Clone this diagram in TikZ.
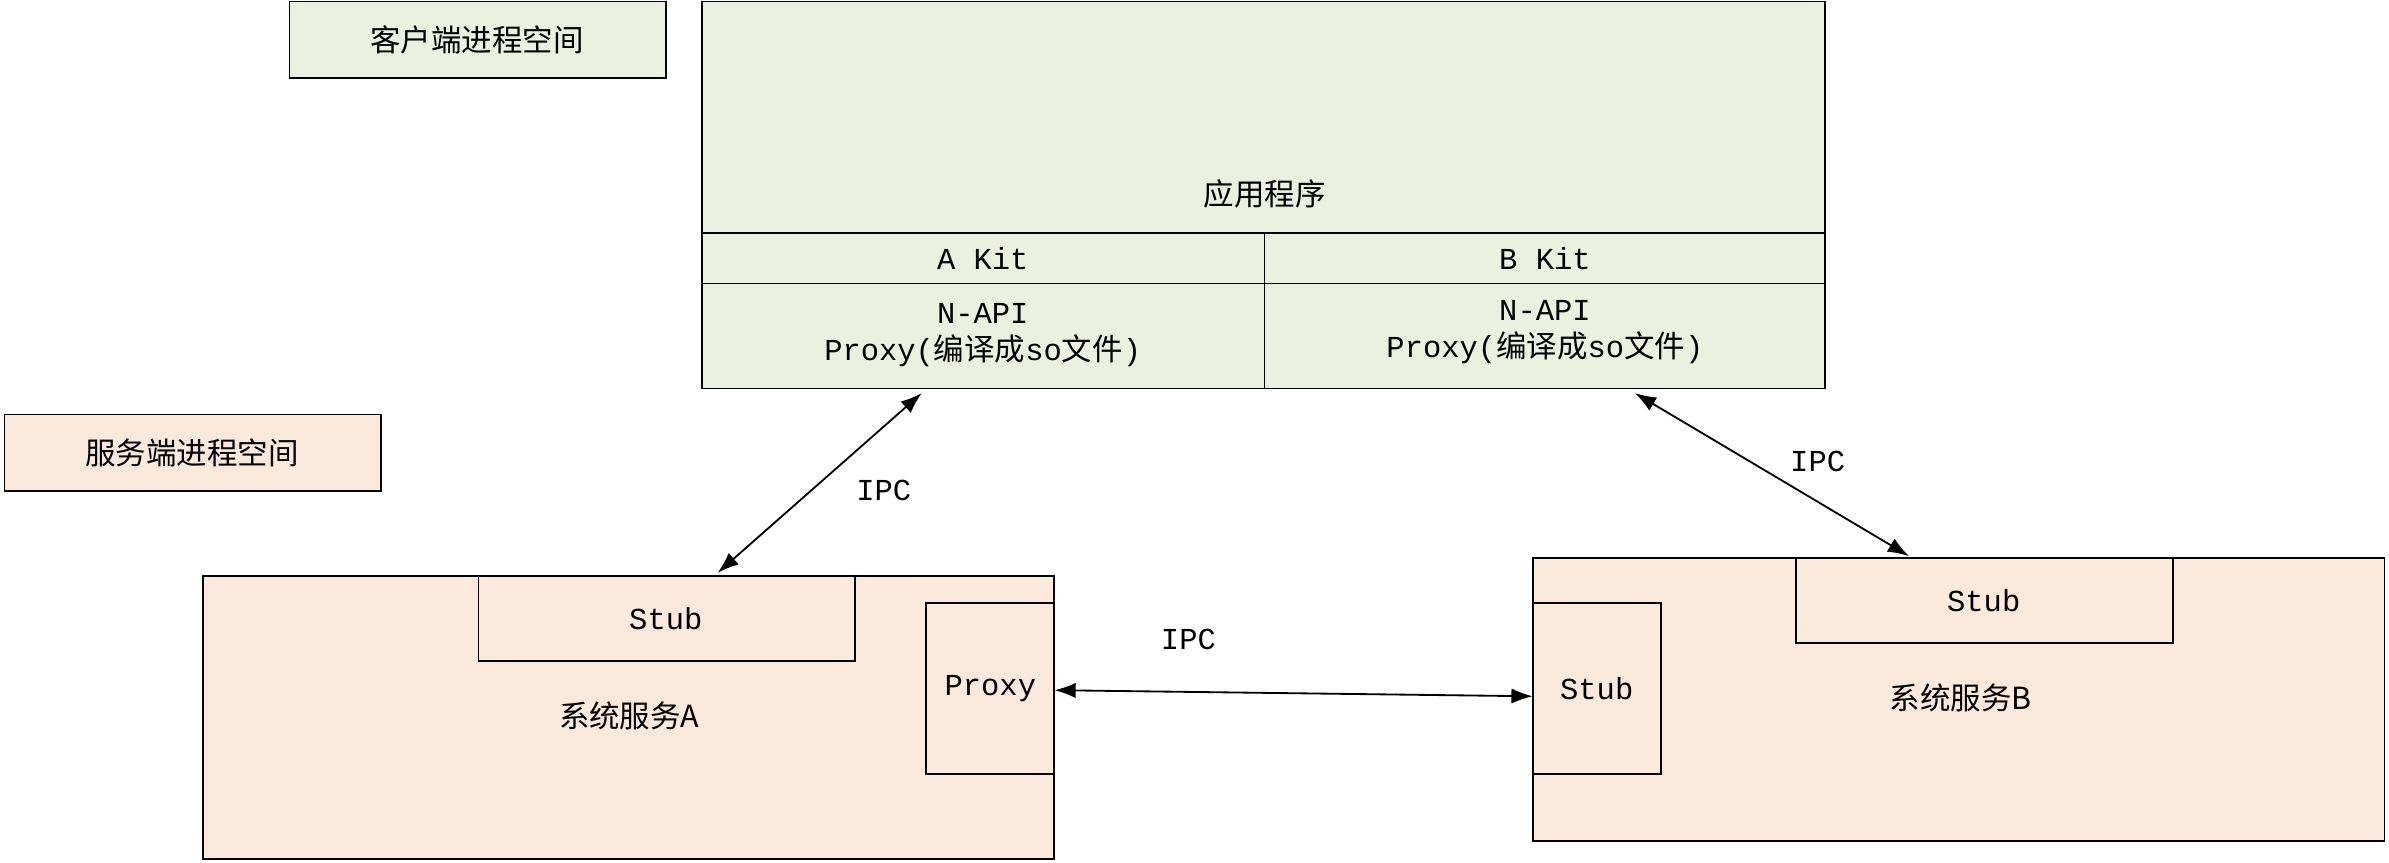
\documentclass[tikz,border=0pt]{standalone}
\usepackage{fontspec}
\setmainfont{Liberation Mono}
\newfontfamily\cjk{Noto Sans CJK SC}
\usetikzlibrary{arrows.meta}
\begin{document}
\begin{tikzpicture}[x=0.5pt,y=-0.5pt,
  g/.style={draw=black,fill=cg,line width=0.6pt},
  p/.style={draw=black,fill=cp,line width=0.6pt},
  t/.style={font=\fontsize{10}{12}\selectfont,align=center},
  a/.style={{Latex[length=7pt,width=5pt]}-{Latex[length=7pt,width=5pt]},line width=0.6pt}]
\definecolor{cg}{HTML}{EBF1DF}
\definecolor{cp}{HTML}{FBE9DB}
\useasboundingbox (0,0) rectangle (1568,566);
% client
\draw[g] (190,1) rectangle (437,51);
\node[t] (cl) at (313,26) {\cjk 客户端进程空间};
\draw[g] (461,1) rectangle (1198,255);
\draw (461,153) -- (1198,153) (461,186) -- (1198,186) (830,153) -- (830,255);
\node[t] (app) at (830,127) {\cjk 应用程序};
\node[t] (ak) at (645,170) {A Kit};
\node[t] (bk) at (1014,170) {B Kit};
\node[t] (ap) at (645,220) {N-API\\Proxy({\cjk 编译成}so{\cjk 文件})};
\node[t] (bp) at (1014,218) {N-API\\Proxy({\cjk 编译成}so{\cjk 文件})};
\coordinate (a1) at (605,258);
\coordinate (b1) at (1073,258);
% server
\draw[p] (3,272) rectangle (250,322);
\node[t] (sl) at (126,297) {\cjk 服务端进程空间};
\draw[p] (133,378) rectangle (692,564);
\draw[p] (314,378) rectangle (561,434);
\node[t] (sa) at (437,406) {Stub};
\draw[p] (608,396) rectangle (692,508);
\node[t] (pa) at (650,452) {Proxy};
\node[t] (A) at (413,470) {\cjk 系统服务A};
\draw[p] (1006,366) rectangle (1565,552);
\draw[p] (1179,366) rectangle (1426,422);
\node[t] (sb) at (1302,394) {Stub};
\draw[p] (1006,396) rectangle (1090,508);
\node[t] (sb2) at (1048,452) {Stub};
\node[t] (B) at (1287,458) {\cjk 系统服务B};
\coordinate (a2) at (471,376);
\coordinate (b2) at (1253,365);
\coordinate (p1) at (692,453);
\coordinate (p2) at (1006,457);
\draw[a] (a1) -- (a2);
\draw[a] (b1) -- (b2);
\draw[a] (p1) -- (p2);
\node[t] (i1) at (580,322) {IPC};
\node[t] (i2) at (1193,303) {IPC};
\node[t] (i3) at (780,420) {IPC};
\end{tikzpicture}
\end{document}
